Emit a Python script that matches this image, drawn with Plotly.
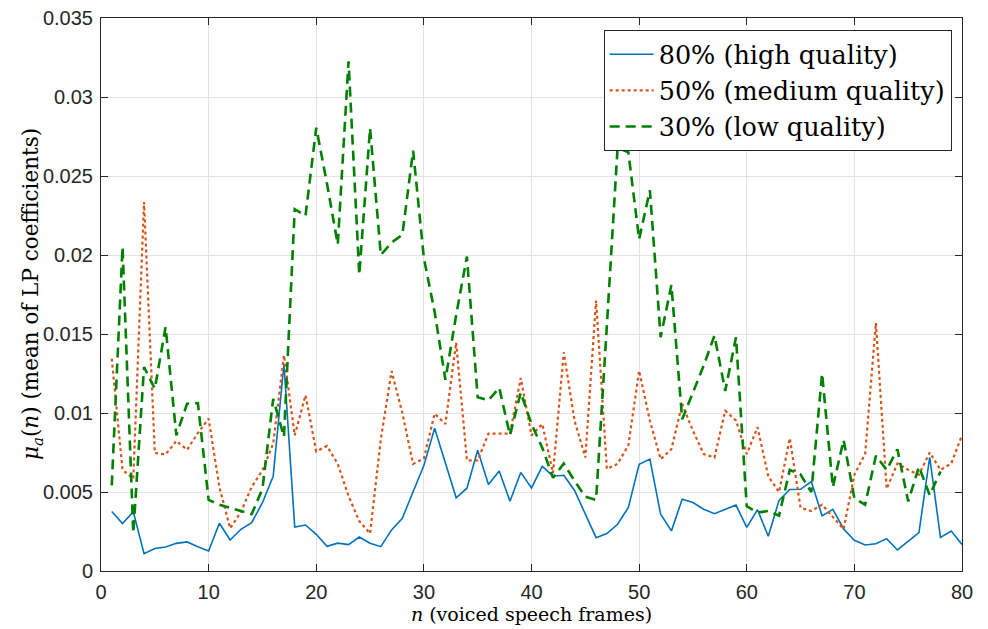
import plotly.graph_objects as go

n_frames = list(range(1, 81))

high_q = [0.00376, 0.0030, 0.00375, 0.0011, 0.00143, 0.00152, 0.00175, 0.00184, 0.00154, 0.00127,
          0.00302, 0.00196, 0.00264, 0.00306, 0.00432, 0.0060, 0.0131, 0.00278, 0.00291, 0.00232,
          0.00156, 0.00176, 0.00167, 0.00215, 0.00176, 0.00154, 0.0026, 0.00334, 0.00502, 0.00667,
          0.00904, 0.00678, 0.00463, 0.00524, 0.00764, 0.00547, 0.00633, 0.00441, 0.00624, 0.00526,
          0.00662, 0.0060, 0.00606, 0.0051, 0.00362, 0.00211, 0.00237, 0.00296, 0.00402, 0.00676,
          0.00708, 0.00359, 0.00254, 0.00454, 0.00433, 0.00391, 0.00363, 0.00391, 0.00417, 0.00276,
          0.00388, 0.0022, 0.00447, 0.00516, 0.00517, 0.00566, 0.00349, 0.0039, 0.00266, 0.00194,
          0.00165, 0.00173, 0.00205, 0.00133, 0.0019, 0.00243, 0.0072, 0.00213, 0.00253, 0.00167]

medium_q = [0.01344, 0.0064, 0.00584, 0.02335, 0.00747, 0.00738, 0.00823, 0.00768, 0.00873, 0.00964,
            0.00532, 0.0027, 0.00373, 0.00532, 0.00637, 0.00806, 0.01365, 0.00859, 0.01112, 0.00757,
            0.00791, 0.00678, 0.00474, 0.00316, 0.00237, 0.00835, 0.01265, 0.0100, 0.00678, 0.00712,
            0.00996, 0.0093, 0.01446, 0.0070, 0.0070, 0.0087, 0.0087, 0.0087, 0.01222, 0.00858,
            0.0093, 0.0062, 0.01384, 0.00951, 0.00718, 0.01712, 0.00646, 0.00678, 0.00795, 0.01268,
            0.00951, 0.00708, 0.00771, 0.01057, 0.00888, 0.0074, 0.00718, 0.01014, 0.00952, 0.0074,
            0.0091, 0.006, 0.0050, 0.0084, 0.0040, 0.0038, 0.0042, 0.0034, 0.00265, 0.0061,
            0.0074, 0.0157, 0.0052, 0.0068, 0.0064, 0.0061, 0.0075, 0.0064, 0.0068, 0.0086]

low_q = [0.00542, 0.0205, 0.0024, 0.01291, 0.01154, 0.01544, 0.00859, 0.01059, 0.01063, 0.0045,
         0.0042, 0.0040, 0.0038, 0.0036, 0.0052, 0.0109, 0.0085, 0.0229, 0.02248, 0.02806,
         0.02451, 0.02067, 0.03226, 0.01875, 0.02802, 0.0200, 0.02079, 0.02128, 0.0266, 0.0198,
         0.0164, 0.0121, 0.0162, 0.0199, 0.0110, 0.0108, 0.0116, 0.0086, 0.0113, 0.0093,
         0.0078, 0.0059, 0.0068, 0.0057, 0.0047, 0.0045, 0.0155, 0.0268, 0.0265, 0.0210,
         0.0241, 0.0148, 0.0181, 0.0096, 0.0113, 0.0130, 0.0149, 0.0114, 0.0148, 0.0041,
         0.0037, 0.0038, 0.0035, 0.0064, 0.0061, 0.0050, 0.0125, 0.0053, 0.0083, 0.0046,
         0.0042, 0.0073, 0.0064, 0.0077, 0.0044, 0.0066, 0.0048, 0.0063]

series_names = ["80% (high quality)", "50% (medium quality)", "30% (low quality)"]

y_ticks = [0, 0.005, 0.01, 0.015, 0.02, 0.025, 0.03, 0.035]
y_tick_text = ["0", "0.005", "0.01", "0.015", "0.02", "0.025", "0.03", "0.035"]
x_ticks = [0, 10, 20, 30, 40, 50, 60, 70, 80]

SERIF = "DejaVu Serif, Liberation Serif, serif"
SANS = "Liberation Sans, Arial, Helvetica, sans-serif"

fig = go.Figure()
fig.add_trace(go.Scatter(x=n_frames, y=high_q, mode="lines", name=series_names[0],
                         legendgroup="a",
                         line=dict(color="#0072BD", width=1.6)))
fig.add_trace(go.Scatter(x=n_frames, y=medium_q, mode="lines", name=series_names[1],
                         legendgroup="b",
                         line=dict(color="#D95319", width=2.2, dash="dot")))
fig.add_trace(go.Scatter(x=n_frames[:len(low_q)], y=low_q, mode="lines", name=series_names[2],
                         legendgroup="c",
                         line=dict(color="#008000", width=2.6, dash="10px,6px")))

axis_common = dict(
    showline=True, linecolor="#262626", linewidth=1, mirror="ticks",
    ticks="inside", ticklen=7, tickcolor="#262626",
    showgrid=True, gridcolor="#e3e3e3", gridwidth=1, zeroline=False,
    automargin=False, ticklabelstandoff=3, ticklabeloverflow="allow",
    tickfont=dict(family=SANS, size=20, color="#262626"),
)

fig.update_xaxes(range=[0, 80], tickvals=x_ticks, **axis_common,
                 title=dict(text="<i>n</i> (voiced speech frames)",
                            font=dict(family=SERIF, size=19, color="#000"),
                            standoff=2))
fig.update_yaxes(range=[0, 0.035], tickvals=y_ticks, ticktext=y_tick_text, **axis_common)

fig.add_annotation(
    text="<i>μ<sub>a</sub></i>(<i>n</i>) (mean of LP coefficients)",
    xref="paper", yref="paper", x=-0.0795, y=0.5,
    xanchor="center", yanchor="middle", textangle=-90, showarrow=False,
    font=dict(family=SERIF, size=21.5, color="#000"),
)

# the page body has an 8px default margin, so the figure is sized to fit the window
fig.update_layout(
    width=980, height=621,
    margin=dict(l=93, r=26, t=10, b=58, autoexpand=False),
    paper_bgcolor="white", plot_bgcolor="white",
    showlegend=True,
    legend=dict(x=0.988, y=0.978, xanchor="right", yanchor="top",
                bgcolor="white", bordercolor="#262626", borderwidth=1,
                font=dict(family=SERIF, size=25.5, color="#000"),
                itemwidth=44, tracegroupgap=0),
)

fig.write_html("out.html")
